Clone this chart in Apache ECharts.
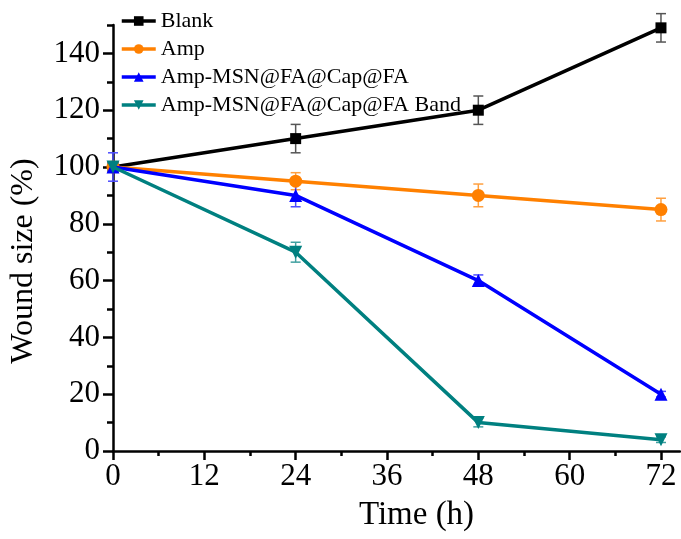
<!DOCTYPE html>
<html>
<head>
<meta charset="utf-8">
<script src="https://cdn.jsdelivr.net/npm/echarts@6/dist/echarts.min.js"></script>
<style>
  html, body { margin: 0; padding: 0; background: #fff; }
  #chart { width: 681px; height: 539px; }
</style>
</head>
<body>
<div id="chart"></div>
<script>
// 数据
var times = [0, 24, 48, 72];
var seriesNames = ['Blank', 'Amp', 'Amp-MSN@FA@Cap@FA', 'Amp-MSN@FA@Cap@FA Band'];
var blank = [100, 110, 120, 149];
var blankErr = [1, 5, 5, 5];
var amp = [100, 95, 90, 85];
var ampErr = [1, 3, 4, 4];
var msn = [100, 90, 60, 20];
var msnErr = [5, 4, 2, 1];
var band = [100, 70, 10, 4];
var bandErr = [1, 3.5, 1.5, 1];
var xMajor = [0, 12, 24, 36, 48, 60, 72];
var xMinor = [6, 18, 30, 42, 54, 66];
var yMajor = [0, 20, 40, 60, 80, 100, 120, 140];
var yMinor = [10, 30, 50, 70, 90, 110, 130, 150];

var font = "'Liberation Serif', 'Times New Roman', serif";
var colors = ['#000000', '#ff8000', '#0000ff', '#008080'];
var errColors = ['#555555', '#ffa040', '#4d4dff', '#40a0a0'];
var symbols = ['rect', 'circle', 'triangle', 'path://M0,0 L10,0 L5,9 Z'];
var symbolSizes = [11, 13, 13, 13];

function pairs(vals) {
  return times.map(function (t, i) { return [t, vals[i]]; });
}
function errData(vals, errs) {
  return times.map(function (t, i) { return [t, vals[i] - errs[i], vals[i] + errs[i]]; });
}
// 误差棒
function errorBar(color) {
  return function (params, api) {
    var x = api.value(0);
    var lo = api.coord([x, api.value(1)]);
    var hi = api.coord([x, api.value(2)]);
    var w = 5;
    var st = { stroke: color, lineWidth: 1.5 };
    return {
      type: 'group',
      children: [
        { type: 'line', shape: { x1: lo[0], y1: lo[1], x2: hi[0], y2: hi[1] }, style: st },
        { type: 'line', shape: { x1: lo[0] - w, y1: lo[1], x2: lo[0] + w, y2: lo[1] }, style: st },
        { type: 'line', shape: { x1: hi[0] - w, y1: hi[1], x2: hi[0] + w, y2: hi[1] }, style: st }
      ]
    };
  };
}

var values = [blank, amp, msn, band];
var errs = [blankErr, ampErr, msnErr, bandErr];

var series = [];
values.forEach(function (v, i) {
  series.push({
    name: 'err' + i,
    type: 'custom',
    renderItem: errorBar(errColors[i]),
    data: errData(v, errs[i]),
    z: 1,
    silent: true
  });
});
values.forEach(function (v, i) {
  series.push({
    name: seriesNames[i],
    type: 'line',
    data: pairs(v),
    symbol: symbols[i],
    symbolSize: symbolSizes[i],
    color: colors[i],
    lineStyle: { width: 3.5, color: colors[i] },
    itemStyle: { color: colors[i] },
    z: 2 + i
  });
});

var axisLine = { show: true, lineStyle: { color: '#000', width: 2.5 } };

var chart = echarts.init(document.getElementById('chart'));
chart.setOption({
  animation: false,
  backgroundColor: '#fff',
  grid: { left: 113, right: 1, top: 25, bottom: 88 },
  legend: {
    data: seriesNames,
    orient: 'vertical',
    left: 115,
    top: 5,
    itemWidth: 34,
    itemHeight: 12,
    itemGap: 6,
    lineStyle: { width: 3.5 },
    textStyle: { fontFamily: font, fontSize: 22, lineHeight: 22, color: '#000' }
  },
  xAxis: [
    {
      type: 'value', min: 0, max: 74.5, interval: 12,
      axisLine: axisLine,
      splitLine: { show: false },
      axisTick: { show: true, customValues: xMajor, length: 9, lineStyle: { color: '#000', width: 2.5 } },
      axisLabel: { customValues: xMajor, fontFamily: font, fontSize: 31, color: '#000', margin: 10 },
      name: 'Time (h)',
      nameLocation: 'middle',
      nameGap: 48,
      nameTextStyle: { fontFamily: font, fontSize: 33, color: '#000', padding: [0, 0, 0, 40] }
    },
    {
      type: 'value', min: 0, max: 74.5, interval: 12, position: 'bottom', offset: 0,
      axisLine: { show: false },
      splitLine: { show: false },
      axisTick: { show: true, customValues: xMinor, length: 5, lineStyle: { color: '#000', width: 2.5 } },
      axisLabel: { show: false }
    }
  ],
  yAxis: [
    {
      type: 'value', min: 0, max: 150, interval: 20,
      axisLine: axisLine,
      splitLine: { show: false },
      axisTick: { show: true, customValues: yMajor, length: 10, lineStyle: { color: '#000', width: 2.5 } },
      axisLabel: { customValues: yMajor, fontFamily: font, fontSize: 31, color: '#000', margin: 13 },
      name: 'Wound size (%)',
      nameLocation: 'middle',
      nameGap: 73,
      nameTextStyle: { fontFamily: font, fontSize: 32, color: '#000', padding: [0, 46, 0, 0] }
    },
    {
      type: 'value', min: 0, max: 150, interval: 20, position: 'left', offset: 0,
      axisLine: { show: false },
      splitLine: { show: false },
      axisTick: { show: true, customValues: yMinor, length: 6, lineStyle: { color: '#000', width: 2.5 } },
      axisLabel: { show: false }
    }
  ],
  series: series
});
</script>
</body>
</html>
